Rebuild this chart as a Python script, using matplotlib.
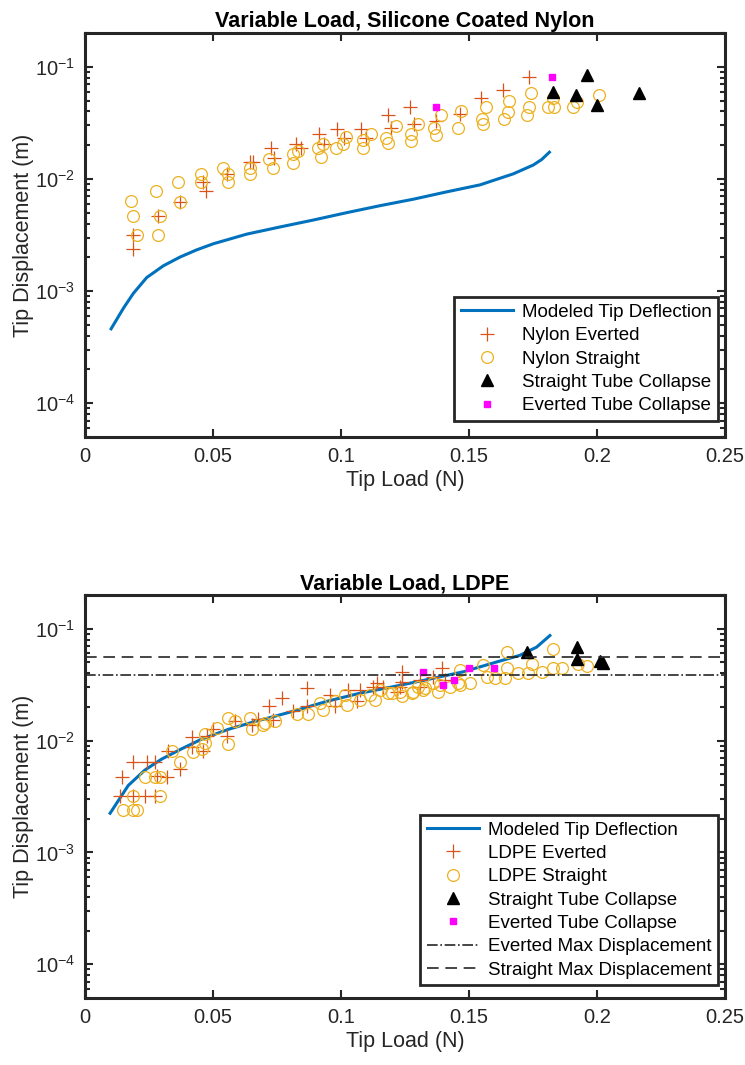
import matplotlib
matplotlib.use("Agg")
import matplotlib.pyplot as plt
from matplotlib.ticker import FixedLocator, LogLocator, FormatStrFormatter, NullFormatter

plt.rcParams['font.family'] = ['Liberation Sans', 'DejaVu Sans']

# ---- Silicone coated nylon ----
nylon_model_x = [0.0102, 0.0150, 0.0189, 0.0241, 0.0306, 0.0371, 0.0436, 0.0501, 0.0632, 0.0762,
                 0.0892, 0.1022, 0.1152, 0.1282, 0.1413, 0.1543, 0.1673, 0.1751, 0.1784, 0.1814]
nylon_model_y = [4.61e-4, 7.03e-4, 9.55e-4, 1.32e-3, 1.68e-3, 2.01e-3, 2.33e-3, 2.64e-3, 3.22e-3, 3.73e-3,
                 4.30e-3, 5.00e-3, 5.77e-3, 6.59e-3, 7.67e-3, 8.85e-3, 1.11e-2, 1.33e-2, 1.49e-2, 1.73e-2]

nylon_everted_x = [0.0186, 0.0186, 0.0286, 0.0371, 0.0462, 0.0473, 0.0554, 0.0645, 0.0657, 0.0727,
                   0.0739, 0.0824, 0.0843, 0.0914, 0.0935, 0.0983, 0.1013, 0.1078, 0.1096, 0.1185,
                   0.1195, 0.1270, 0.1285, 0.1371, 0.1465, 0.1547, 0.1634, 0.1736]
nylon_everted_y = [0.00319, 0.00235, 0.00471, 0.00626, 0.00946, 0.00783, 0.0110, 0.0141, 0.0141, 0.0187,
                   0.0154, 0.0203, 0.0187, 0.0249, 0.0203, 0.0281, 0.0232, 0.0281, 0.0232, 0.0374,
                   0.0284, 0.0434, 0.0309, 0.0326, 0.0378, 0.0524, 0.0622, 0.0804]

nylon_straight_x = [0.0179, 0.0189, 0.0204, 0.0276, 0.0293, 0.0284, 0.0362, 0.0371, 0.0452, 0.0452,
                    0.0538, 0.0560, 0.0560, 0.0645, 0.0645, 0.0719, 0.0736, 0.0814, 0.0814, 0.0833,
                    0.0911, 0.0922, 0.0931, 0.0980, 0.1009, 0.1020, 0.1087, 0.1087, 0.1116, 0.1176,
                    0.1185, 0.1215, 0.1273, 0.1273, 0.1302, 0.1363, 0.1371, 0.1391, 0.1456, 0.1470,
                    0.1550, 0.1554, 0.1566, 0.1637, 0.1654, 0.1657, 0.1725, 0.1734, 0.1742, 0.1810,
                    0.1832, 0.1829, 0.1907, 0.1921, 0.2008]
nylon_straight_y = [0.00630, 0.00471, 0.00315, 0.00783, 0.00471, 0.00313, 0.00940, 0.00626, 0.0111, 0.00940,
                    0.0126, 0.00935, 0.0110, 0.0126, 0.0110, 0.0149, 0.0126, 0.0166, 0.0139, 0.0177,
                    0.0187, 0.0157, 0.0203, 0.0189, 0.0203, 0.0235, 0.0224, 0.0189, 0.0252, 0.0232,
                    0.0209, 0.0294, 0.0252, 0.0220, 0.0309, 0.0284, 0.0245, 0.0374, 0.0284, 0.0403,
                    0.0345, 0.0309, 0.0434, 0.0345, 0.0394, 0.0497, 0.0374, 0.0434, 0.0580, 0.0434,
                    0.0434, 0.0524, 0.0434, 0.0490, 0.0562]

nylon_straight_collapse_x = [0.1960, 0.1829, 0.1918, 0.1999, 0.2165]
nylon_straight_collapse_y = [0.0844, 0.0601, 0.0562, 0.0452, 0.0580]
nylon_everted_collapse_x = [0.1371, 0.1823]
nylon_everted_collapse_y = [0.0434, 0.0815]

# ---- LDPE ----
ldpe_model_x = [0.0098, 0.0169, 0.0234, 0.0300, 0.0378, 0.0456, 0.0560, 0.0664, 0.0742, 0.0814,
                0.0944, 0.1074, 0.1204, 0.1335, 0.1478, 0.1608, 0.1699, 0.1764, 0.1816]
ldpe_model_y = [0.00224, 0.00397, 0.00545, 0.00684, 0.00845, 0.0103, 0.0126, 0.0148, 0.0165, 0.0183,
                0.0224, 0.0265, 0.0303, 0.0350, 0.0412, 0.0504, 0.0578, 0.0684, 0.0868]

ldpe_everted_x = [0.0137, 0.0143, 0.0189, 0.0241, 0.0273, 0.0234, 0.0273, 0.0189, 0.0280, 0.0319,
                  0.0325, 0.0371, 0.0417, 0.0417, 0.0462, 0.0475, 0.0501, 0.0554, 0.0586, 0.0651,
                  0.0677, 0.0720, 0.0768, 0.0736, 0.0814, 0.0866, 0.0866, 0.0957, 0.0977, 0.1029,
                  0.1074, 0.1061, 0.1126, 0.1139, 0.1218, 0.1230, 0.1237, 0.1309, 0.1393, 0.1361,
                  0.1165, 0.1237, 0.1309, 0.1406]
ldpe_everted_y = [0.00321, 0.00471, 0.00647, 0.00647, 0.00647, 0.00321, 0.00321, 0.00321, 0.00481, 0.00471,
                  0.00810, 0.00558, 0.0108, 0.00867, 0.00810, 0.0110, 0.0128, 0.0110, 0.0149, 0.0139,
                  0.0156, 0.0205, 0.0240, 0.0154, 0.0183, 0.0294, 0.0202, 0.0256, 0.0202, 0.0284,
                  0.0284, 0.0224, 0.0303, 0.0329, 0.0274, 0.0303, 0.0407, 0.0348, 0.0441, 0.0372,
                  0.0303, 0.0336, 0.0303, 0.0348]

ldpe_straight_x = [0.0150, 0.0189, 0.0202, 0.0189, 0.0293, 0.0234, 0.0273, 0.0293, 0.0339, 0.0371,
                   0.0423, 0.0456, 0.0469, 0.0469, 0.0514, 0.0560, 0.0560, 0.0586, 0.0645, 0.0651,
                   0.0703, 0.0696, 0.0742, 0.0827, 0.0872, 0.0918, 0.0931, 0.0977, 0.1016, 0.1022,
                   0.1074, 0.1113, 0.1133, 0.1185, 0.1230, 0.1276, 0.1302, 0.1328, 0.1361, 0.1387,
                   0.1458, 0.1152, 0.1198, 0.1237, 0.1282, 0.1321, 0.1380, 0.1426, 0.1465, 0.1504,
                   0.1465, 0.1556, 0.1569, 0.1602, 0.1641, 0.1647, 0.1647, 0.1693, 0.1732, 0.1745,
                   0.1784, 0.1829, 0.1829, 0.1862, 0.1927, 0.1960]
ldpe_straight_y = [0.00239, 0.00239, 0.00239, 0.00321, 0.00321, 0.00471, 0.00477, 0.00477, 0.00810, 0.00647,
                   0.00793, 0.00838, 0.00960, 0.0114, 0.0130, 0.0160, 0.00928, 0.0149, 0.0160, 0.0126,
                   0.0144, 0.0139, 0.0149, 0.0171, 0.0171, 0.0216, 0.0189, 0.0224, 0.0256, 0.0209,
                   0.0232, 0.0256, 0.0232, 0.0265, 0.0274, 0.0265, 0.0303, 0.0294, 0.0325, 0.0314,
                   0.0325, 0.0284, 0.0265, 0.0248, 0.0274, 0.0284, 0.0274, 0.0303, 0.0314, 0.0325,
                   0.0426, 0.0471, 0.0372, 0.0360, 0.0360, 0.0441, 0.0618, 0.0398, 0.0398, 0.0488,
                   0.0411, 0.0662, 0.0441, 0.0441, 0.0488, 0.0462]

ldpe_straight_collapse_x = [0.1725, 0.1921, 0.1921, 0.2022, 0.2010]
ldpe_straight_collapse_y = [0.0618, 0.0684, 0.0541, 0.0494, 0.0510]
ldpe_everted_collapse_x = [0.1321, 0.1400, 0.1441, 0.1501, 0.1598]
ldpe_everted_collapse_y = [0.0411, 0.0314, 0.0348, 0.0441, 0.0441]

everted_max = 0.0387
straight_max = 0.0557

blue = '#0072BD'
orange = '#D95319'
yellow = '#EDB120'
dark = '#262626'

fig = plt.figure(figsize=(7.45, 10.65), dpi=100)
ax1 = fig.add_axes([85 / 745, 1 - 437 / 1065, 640 / 745, 404 / 1065])
ax2 = fig.add_axes([85 / 745, 1 - 998 / 1065, 640 / 745, 403 / 1065])


def draw(ax, mx, my, ex, ey, sx, sy, scx, scy, ecx, ecy, name):
    ax.plot(mx, my, color=blue, lw=2.2, label='Modeled Tip Deflection')
    ax.plot(ex, ey, ls='none', marker='+', ms=10, mew=0.9, color=orange, label=name + ' Everted')
    ax.plot(sx, sy, ls='none', marker='o', ms=8.5, mew=0.9, mfc='none', mec=yellow,
            label=name + ' Straight')
    ax.plot(scx, scy, ls='none', marker='^', ms=8.5, color='black', label='Straight Tube Collapse')
    ax.plot(ecx, ecy, ls='none', marker='s', ms=5, color='#FF00FF', label='Everted Tube Collapse')


def style(ax, title):
    ax.set_yscale('log')
    ax.set_xlim(0, 0.25)
    ax.set_ylim(5e-5, 0.2)
    ax.xaxis.set_major_locator(FixedLocator([0, 0.05, 0.1, 0.15, 0.2, 0.25]))
    ax.xaxis.set_major_formatter(FormatStrFormatter('%g'))
    ax.yaxis.set_major_locator(FixedLocator([1e-4, 1e-3, 1e-2, 1e-1]))
    ax.yaxis.set_minor_locator(LogLocator(base=10, subs=range(2, 10)))
    ax.yaxis.set_minor_formatter(NullFormatter())
    ax.tick_params(which='both', direction='in', top=True, right=True, color=dark,
                   labelcolor=dark, labelsize=14.5, width=1.5)
    ax.tick_params(which='major', length=6, pad=7)
    ax.tick_params(which='minor', length=3.5)
    for s in ax.spines.values():
        s.set_linewidth(2.2)
        s.set_color(dark)
    ax.set_title(title, fontsize=15.5, fontweight='bold', color='black', pad=4)
    ax.set_xlabel('Tip Load (N)', fontsize=15.5, color=dark, labelpad=3)
    ax.set_ylabel('Tip Displacement (m)', fontsize=15.5, color=dark, labelpad=1)


draw(ax1, nylon_model_x, nylon_model_y, nylon_everted_x, nylon_everted_y,
     nylon_straight_x, nylon_straight_y, nylon_straight_collapse_x, nylon_straight_collapse_y,
     nylon_everted_collapse_x, nylon_everted_collapse_y, 'Nylon')
style(ax1, 'Variable Load, Silicone Coated Nylon')

draw(ax2, ldpe_model_x, ldpe_model_y, ldpe_everted_x, ldpe_everted_y,
     ldpe_straight_x, ldpe_straight_y, ldpe_straight_collapse_x, ldpe_straight_collapse_y,
     ldpe_everted_collapse_x, ldpe_everted_collapse_y, 'LDPE')
ax2.axhline(everted_max, color=dark, ls='-.', lw=1.2, label='Everted Max Displacement')
ax2.axhline(straight_max, color=dark, ls=(0, (7, 4)), lw=1.2, label='Straight Max Displacement')
style(ax2, 'Variable Load, LDPE')

for ax, anchor in ((ax1, (0.989, 0.040)), (ax2, (0.989, 0.032))):
    leg = ax.legend(loc='lower right', bbox_to_anchor=anchor, fontsize=13.5, numpoints=1,
                    fancybox=False, framealpha=1, edgecolor=dark, handlelength=2.8,
                    handletextpad=0.45, labelspacing=0.33, borderpad=0.35, borderaxespad=0)
    leg.get_frame().set_linewidth(2.0)

fig.savefig('out.png', dpi=100)
